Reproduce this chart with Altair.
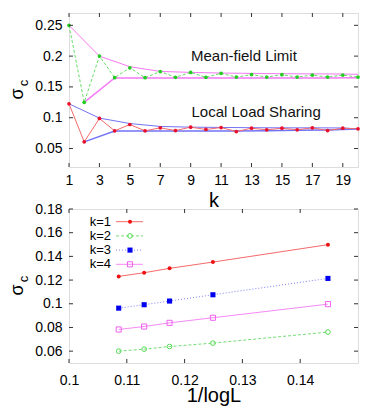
import altair as alt
import pandas as pd

FONT = "Liberation Sans"

# ---------------- top panel data ----------------
k_vals = list(range(1, 21))
mf_sigma = [0.250, 0.125, 0.200, 0.165, 0.181, 0.165, 0.175, 0.1655, 0.1736, 0.1655,
            0.172, 0.166, 0.170, 0.166, 0.1698, 0.166, 0.1692, 0.166, 0.1692, 0.166]
lls_sigma = [0.1226, 0.0608, 0.0988, 0.0787, 0.0890, 0.0787, 0.0836, 0.0792, 0.0847, 0.0809,
             0.0841, 0.0776, 0.0830, 0.0803, 0.0830, 0.0803, 0.0836, 0.0792, 0.0830, 0.0819]
mf_upper_k = [1, 3, 5, 7, 9, 11, 13, 15, 17, 19, 20]
mf_upper = [0.250, 0.200, 0.1828, 0.1752, 0.1736, 0.1725, 0.172, 0.1714, 0.1712, 0.1709, 0.1705]
mf_lower_k = [2, 4, 6, 8, 10, 12, 14, 16, 18, 20]
mf_lower = [0.1248, 0.1645, 0.1645, 0.1645, 0.1645, 0.1645, 0.1645, 0.1645, 0.1645, 0.1648]
lls_upper_k = [1, 3, 5, 7, 9, 11, 13, 15, 17, 19, 20]
lls_upper = [0.1226, 0.0994, 0.0906, 0.0858, 0.0847, 0.0842, 0.0838, 0.0836, 0.0836, 0.0834, 0.0819]
lls_lower_k = [2, 4, 6, 8, 10, 12, 14, 16, 18, 20]
lls_lower = [0.0608, 0.0784, 0.0784, 0.0784, 0.0784, 0.0786, 0.0790, 0.0795, 0.0800, 0.0815]

top_xticks = [1, 3, 5, 7, 9, 11, 13, 15, 17, 19]
top_yticks = [0.05, 0.1, 0.15, 0.2, 0.25]
annot_text = ["Mean-field Limit", "Local Load Sharing"]
annot_k = [12.5, 13.3]
annot_sigma = [0.1926, 0.1015]

# ---------------- bottom panel data ----------------
inv_logL = [0.1086, 0.1130, 0.1174, 0.1249, 0.1448]
sig_k1 = [0.1231, 0.1262, 0.1299, 0.1352, 0.1499]
sig_k2 = [0.0600, 0.0617, 0.0639, 0.0668, 0.0761]
sig_k3 = [0.0963, 0.0992, 0.1023, 0.1076, 0.1214]
sig_k4 = [0.0783, 0.0808, 0.0839, 0.0882, 0.0997]
bot_xticks = [0.1, 0.11, 0.12, 0.13, 0.14]
bot_yticks = [0.06, 0.08, 0.1, 0.12, 0.14, 0.16, 0.18]
legend_labels = ["k=1", "k=2", "k=3", "k=4"]

W, H1, H2 = 289, 154, 154
TICK = 4
TICK_COLOR = "#333"


def series(xs, ys):
    return pd.DataFrame({"x": xs, "y": ys})


def make_panel(X, Y, W, H, xticks, yticks, layers):
    tx = pd.DataFrame({"x": xticks})
    ty = pd.DataFrame({"y": yticks})
    tick_layers = [
        alt.Chart(tx).mark_rule(color=TICK_COLOR, strokeWidth=1).encode(
            x=X, y=alt.value(H), y2=alt.value(H - TICK)),
        alt.Chart(tx).mark_rule(color=TICK_COLOR, strokeWidth=1).encode(
            x=X, y=alt.value(0), y2=alt.value(TICK)),
        alt.Chart(ty).mark_rule(color=TICK_COLOR, strokeWidth=1).encode(
            y=Y, x=alt.value(0), x2=alt.value(TICK)),
        alt.Chart(ty).mark_rule(color=TICK_COLOR, strokeWidth=1).encode(
            y=Y, x=alt.value(W), x2=alt.value(W - TICK)),
    ]
    sigma = [
        alt.Chart(pd.DataFrame({"t": ["σ"]})).mark_text(
            font=FONT, fontSize=18, angle=270, align="center", baseline="alphabetic",
            color="black").encode(text="t:N", x=alt.value(-46), y=alt.value(81)),
        alt.Chart(pd.DataFrame({"t": ["c"]})).mark_text(
            font=FONT, fontSize=13, angle=270, align="center", baseline="alphabetic",
            color="black").encode(text="t:N", x=alt.value(-41), y=alt.value(70)),
    ]
    return alt.layer(*(layers + tick_layers + sigma)).properties(width=W, height=H)


def axis_common(values, title, label_pad, title_y, title_size):
    return alt.Axis(values=values, title=title, format="~g", labelFont=FONT, labelFontSize=14,
                    labelColor="black", labelPadding=label_pad, ticks=False, domain=False,
                    grid=False, labelFlush=False, labelOverlap=False, titleFont=FONT,
                    titleFontSize=title_size, titleFontWeight="normal", titleColor="black",
                    titleY=title_y, titleBaseline="alphabetic")


# ---------------- top panel ----------------
X1 = alt.X("x:Q", scale=alt.Scale(domain=[1, 20], nice=False, zero=False),
           axis=axis_common(top_xticks, "k", 6, 39, 20))
Y1 = alt.Y("y:Q", scale=alt.Scale(domain=[0.02, 0.27], nice=False, zero=False),
           axis=alt.Axis(values=top_yticks, title=None, format="~g", labelFont=FONT,
                         labelFontSize=14, labelColor="black", labelPadding=7, ticks=False,
                         domain=False, grid=False, labelFlush=False, labelOverlap=False))


def line_layer(df, X, Y, color, dash=None, width=1.0):
    kw = dict(color=color, strokeWidth=width)
    if dash:
        kw["strokeDash"] = dash
    return alt.Chart(df).mark_line(**kw).encode(x=X, y=Y)


def point_layer(df, X, Y, color, shape, size, filled):
    if filled:
        m = alt.Chart(df).mark_point(shape=shape, size=size, filled=True, color=color, opacity=1)
    else:
        m = alt.Chart(df).mark_point(shape=shape, size=size, filled=False, color=color,
                                     strokeWidth=1, opacity=1)
    return m.encode(x=X, y=Y)


mf_df = series(k_vals, mf_sigma)
lls_df = series(k_vals, lls_sigma)
annot_df = pd.DataFrame({"x": annot_k, "y": annot_sigma, "t": annot_text})

top_layers = [
    line_layer(series(mf_upper_k, mf_upper), X1, Y1, "#f57af5"),
    line_layer(series(mf_lower_k, mf_lower), X1, Y1, "#f57af5", width=1.5),
    line_layer(series(lls_upper_k, lls_upper), X1, Y1, "#7373f5"),
    line_layer(series(lls_lower_k, lls_lower), X1, Y1, "#7373f5", width=1.5),
    line_layer(mf_df, X1, Y1, "#66dd66", dash=[3, 2]),
    line_layer(lls_df, X1, Y1, "#f56a6a"),
    point_layer(mf_df, X1, Y1, "#22cc22", "circle", 14, True),
    point_layer(lls_df, X1, Y1, "#e8102a", "circle", 14, True),
    alt.Chart(annot_df).mark_text(font=FONT, fontSize=15, color="#111", align="center",
                                  baseline="alphabetic").encode(x=X1, y=Y1, text="t:N"),
]
top = make_panel(X1, Y1, W, H1, top_xticks, top_yticks, top_layers)

# ---------------- bottom panel ----------------
X2 = alt.X("x:Q", scale=alt.Scale(domain=[0.1, 0.15], nice=False, zero=False),
           axis=axis_common(bot_xticks, "1/logL", 10, 38.5, 20))
Y2 = alt.Y("y:Q", scale=alt.Scale(domain=[0.05, 0.18], nice=False, zero=False),
           axis=alt.Axis(values=bot_yticks, title=None, format="~g", labelFont=FONT,
                         labelFontSize=14, labelColor="black", labelPadding=7, ticks=False,
                         domain=False, grid=False, labelFlush=False, labelOverlap=False))

styles = [
    # line color, dash, marker color, shape, size, filled
    ("#f56a6a", None, "#ee1111", "circle", 16, True),
    ("#77dd77", [3, 2], "#55dd55", "circle", 22, False),
    ("#8080f5", [1, 2], "#0000ee", "square", 26, True),
    ("#f58af5", None, "#f060f0", "square", 26, False),
]
bot_series = [sig_k1, sig_k2, sig_k3, sig_k4]

bot_layers = []
for ys, st in zip(bot_series, styles):
    df = series(inv_logL, ys)
    bot_layers.append(line_layer(df, X2, Y2, st[0], dash=st[1]))
    bot_layers.append(point_layer(df, X2, Y2, st[2], st[3], st[4], st[5]))

# legend (top-left, inside the frame)
for i, (lab, st) in enumerate(zip(legend_labels, styles)):
    yy = 12.7 + 14.2 * i
    one = pd.DataFrame({"t": [lab]})
    bot_layers.append(alt.Chart(one).mark_text(font=FONT, fontSize=13, color="black",
                                               align="right", baseline="middle").encode(
        text="t:N", x=alt.value(42), y=alt.value(yy)))
    kw = dict(color=st[0], strokeWidth=1)
    if st[1]:
        kw["strokeDash"] = st[1]
    bot_layers.append(alt.Chart(one).mark_rule(**kw).encode(
        x=alt.value(47), x2=alt.value(74), y=alt.value(yy)))
    if st[5]:
        pm = alt.Chart(one).mark_point(shape=st[3], size=st[4], filled=True, color=st[2], opacity=1)
    else:
        pm = alt.Chart(one).mark_point(shape=st[3], size=st[4], filled=False, color=st[2],
                                       strokeWidth=1, opacity=1)
    bot_layers.append(pm.encode(x=alt.value(61), y=alt.value(yy)))

bottom = make_panel(X2, Y2, W, H2, bot_xticks, bot_yticks, bot_layers)

chart = alt.vconcat(top, bottom, spacing=42, bounds="flush").resolve_scale(
    x="independent", y="independent"
).properties(
    padding={"left": 0, "top": 4, "right": 5, "bottom": 3}
).configure_view(
    stroke="#333", strokeWidth=1
).configure(background="white")

chart.save("out.html", embed_options={"renderer": "svg", "actions": False})
